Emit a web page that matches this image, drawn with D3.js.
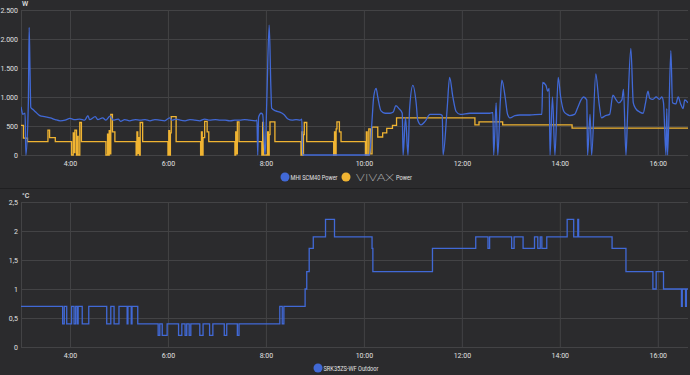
<!DOCTYPE html>
<html>
<head>
<meta charset="utf-8">
<script src="https://cdn.jsdelivr.net/npm/d3@7"></script>
<style>
  html, body { margin: 0; padding: 0; background: #2b2b2d; }
  svg { display: block; font-family: Roboto, "Noto Sans", sans-serif; }
</style>
</head>
<body>
<script>
// power chart data (W), time as H:MM
var mhiPower = [
  ["3:00",830],["3:01",760],["3:02",700],["3:05",720],["3:06",0],["3:09",900],["3:10",2200],["3:11",1500],
  ["3:12",820],["3:15",780],["3:18",740],["3:23",680],["3:29",660],["3:36",640],["3:42",610],["3:48",590],
  ["3:54",600],["4:00",630],["4:06",610],["4:12",620],["4:18",600],["4:22",680],["4:24",610],["4:31",660],
  ["4:34",610],["4:40",640],["4:44",600],["4:49",670],["4:53",600],["4:59",620],["5:02",580],["5:07",610],
  ["5:13",590],["5:20",610],["5:26",600],["5:32",610],["5:38",590],["5:44",610],["5:50",600],["5:56",590],
  ["6:02",640],["6:05",600],["6:10",620],["6:15",600],["6:21",590],["6:27",610],["6:33",600],["6:39",590],
  ["6:45",620],["6:51",600],["6:58",610],["7:04",600],["7:10",600],["7:16",590],["7:22",600],["7:28",600],
  ["7:34",610],["7:40",600],["7:47",590],["7:49",600],["7:50",0],["7:51",650],["7:54",720],["7:56",700],
  ["7:59",0],["8:01",900],["8:04",2240],["8:06",1200],["8:07",810],["8:12",760],["8:17",740],["8:22",700],
  ["8:27",620],["8:32",600],["8:37",610],["8:42",600],["8:44",620],["8:45",0],["10:07",0],["10:10",600],
  ["10:12",1000],["10:15",1150],["10:17",1000],["10:21",760],["10:26",720],["10:32",720],["10:36",740],
  ["10:39",850],["10:43",800],["10:47",720],["10:48",0],["10:51",650],["10:54",0],["10:56",800],["11:00",1200],
  ["11:04",900],["11:06",600],["11:10",520],["11:15",580],["11:21",700],["11:27",700],["11:33",700],
  ["11:36",680],["11:37",0],["11:42",800],["11:45",1340],["11:49",1000],["11:53",750],["11:58",700],
  ["12:10",720],["12:22",720],["12:34",720],["12:38",730],["12:39",0],["12:42",900],["12:44",0],["12:47",900],
  ["12:49",1290],["12:53",1000],["12:56",700],["12:59",640],["13:05",680],["13:11",690],["13:23",690],
  ["13:36",700],["13:38",700],["13:39",1250],["13:43",1200],["13:45",1100],["13:47",1150],["13:48",0],
  ["13:51",1000],["13:54",0],["13:58",1340],["14:01",1000],["14:05",750],["14:09",700],["14:12",680],
  ["14:18",700],["14:22",820],["14:26",950],["14:29",1000],["14:33",950],["14:34",0],["14:37",700],
  ["14:39",0],["14:44",1400],["14:48",900],["14:51",640],["14:56",680],["15:01",700],["15:05",1030],
  ["15:09",950],["15:12",900],["15:16",950],["15:18",1130],["15:21",0],["15:23",700],["15:27",1840],
  ["15:30",900],["15:33",800],["15:38",740],["15:42",720],["15:45",900],["15:48",1100],["15:50",980],
  ["15:54",960],["15:58",1000],["16:02",960],["16:05",1000],["16:07",900],["16:10",0],["16:11",800],
  ["16:12",0],["16:16",1800],["16:18",900],["16:22",880],["16:25",1000],["16:28",880],["16:31",800],
  ["16:33",950],["16:37",900]
];

var vivaxPower = [
  ["3:00",510],["3:03",290],["3:08",230],["3:33",430],["3:35",300],["3:42",230],
  ["4:02",0],["4:04",380],["4:05",40],["4:06",430],["4:08",0],["4:09",320],["4:10",0],["4:12",560],["4:14",230],
  ["4:44",0],["4:46",360],["4:47",0],["4:48",420],["4:49",20],["4:50",700],["4:52",400],["4:55",230],
  ["5:21",0],["5:22",400],["5:23",30],["5:24",300],["5:25",0],["5:26",560],["5:29",230],
  ["6:00",0],["6:01",420],["6:02",0],["6:03",380],["6:04",660],["6:10",230],
  ["6:40",0],["6:41",400],["6:42",0],["6:43",300],["6:45",580],["6:48",400],["6:50",230],
  ["7:22",0],["7:23",400],["7:24",20],["7:25",570],["7:27",230],
  ["7:55",0],["7:56",560],["7:57",0],["8:02",400],["8:03",0],["8:04",350],["8:05",570],["8:11",230],
  ["8:43",0],["8:44",400],["8:45",0],["8:46",350],["8:47",560],["8:50",230],
  ["9:23",0],["9:24",400],["9:25",0],["9:26",450],["9:27",570],["9:30",400],["9:32",230],
  ["10:02",0],["10:03",400],["10:04",0],["10:06",450],["10:08",20],["10:10",480],["10:17",310],["10:23",380],
  ["10:28",460],["10:35",510],["10:40",640],["12:16",520],["12:21",570],["12:50",520],["14:15",465],["16:37",465]
];

// outdoor temperature (°C)
var outdoorTemp = [
  ["3:00",0.7],["3:51",0.4],["3:53",0.7],["3:56",0.4],["4:02",0.7],["4:05",0.4],["4:07",0.7],["4:09",0.4],
  ["4:10",0.7],["4:15",0.4],["4:23",0.7],["4:45",0.4],["4:50",0.7],["4:54",0.4],["5:00",0.7],["5:10",0.4],
  ["5:11",0.7],["5:15",0.4],["5:16",0.7],["5:23",0.4],["5:48",0.2],["5:50",0.4],["5:53",0.2],["5:59",0.4],
  ["6:13",0.2],["6:17",0.4],["6:21",0.2],["6:23",0.4],["6:26",0.2],["6:28",0.4],["6:39",0.2],["6:43",0.4],
  ["6:51",0.2],["6:55",0.4],["7:09",0.2],["7:12",0.4],["7:25",0.2],["7:27",0.4],["8:17",0.7],["8:20",0.4],
  ["8:22",0.7],["8:48",1.0],["8:50",1.3],["8:53",1.7],["8:58",1.9],["9:13",2.2],["9:24",1.9],["10:10",1.7],
  ["10:11",1.3],["11:24",1.7],["12:17",1.9],["12:32",1.7],["12:34",1.9],["13:01",1.7],["13:04",1.9],
  ["13:15",1.7],["13:29",1.9],["13:33",1.7],["13:36",1.9],["13:38",1.7],["13:44",1.9],["14:09",2.2],
  ["14:17",1.9],["14:22",2.2],["14:23",1.9],["15:04",1.7],["15:21",1.3],["15:54",1.0],["15:58",1.3],
  ["16:07",1.0],["16:29",0.7],["16:30",1.0],["16:34",0.7],["16:35",1.0],["16:37",1.0]
];

var timeTicks = ["4:00","6:00","8:00","10:00","12:00","14:00","16:00"];
var powerTicks = [0, 500, 1000, 1500, 2000, 2500];
var tempTicks = [0, 0.5, 1, 1.5, 2, 2.5];

var W = 690, H = 375;
var parse = d3.timeParse("%H:%M");
var fmt = d3.timeFormat("%-H:%M");
var blue = "#4169d6", yellow = "#f0b432", grid = "#434345", txt = "#e1e1e1";

var svg = d3.select("body").append("svg").attr("width", W).attr("height", H);
svg.append("rect").attr("width", W).attr("height", H).attr("fill", "#2b2b2d");
// card separator
svg.append("line").attr("x1", 0).attr("x2", W).attr("y1", 188.5).attr("y2", 188.5)
  .attr("stroke", "#1f1f21").attr("stroke-width", 1);

var x = d3.scaleTime().domain([parse("3:00"), parse("16:37")]).range([21, 688]);

function drawPanel(top, bottom, yDomain, ticks, tickFmt, unit, id) {
  var y = d3.scaleLinear().domain(yDomain).range([bottom, top]);
  var g = svg.append("g");

  // horizontal grid + labels
  g.append("g").attr("transform", "translate(21,0)")
    .call(d3.axisLeft(y).tickValues(ticks).tickSize(-(688 - 21)).tickPadding(3).tickFormat(tickFmt))
    .call(function(a) {
      a.select(".domain").remove();
      a.selectAll(".tick line").attr("stroke", grid).attr("stroke-width", 1);
      a.selectAll(".tick text").attr("fill", txt).attr("font-size", 7).attr("font-family", "Roboto, sans-serif");
    });

  // vertical grid + time labels
  g.append("g").attr("transform", "translate(0," + bottom + ")")
    .call(d3.axisBottom(x).tickValues(timeTicks.map(parse)).tickSize(-(bottom - top)).tickPadding(6).tickFormat(fmt))
    .call(function(a) {
      a.select(".domain").remove();
      a.selectAll(".tick line").attr("stroke", grid).attr("stroke-width", 1);
      a.selectAll(".tick text").attr("fill", txt).attr("font-size", 7).attr("font-family", "Roboto, sans-serif");
    });

  // left border
  g.append("line").attr("x1", 21.5).attr("x2", 21.5).attr("y1", top).attr("y2", bottom)
    .attr("stroke", grid);

  g.append("text").attr("x", 22).attr("y", top - 4).attr("fill", txt)
    .attr("font-size", 7).attr("font-weight", 500).text(unit);

  svg.append("clipPath").attr("id", id).append("rect")
    .attr("x", 21).attr("y", top - 3).attr("width", 688 - 21).attr("height", bottom - top + 6);
  return y;
}

// top panel: power (german thousands separator)
var yP = drawPanel(10, 155, [0, 2500], powerTicks,
  function(d) { return d3.format(",.0f")(d).replace(",", "."); }, "W", "clipP");

var lineP = d3.line().x(function(d) { return x(parse(d[0])); }).y(function(d) { return yP(d[1]); });

svg.append("path").datum(vivaxPower)
  .attr("clip-path", "url(#clipP)")
  .attr("fill", "none").attr("stroke", yellow).attr("stroke-width", 1.3)
  .attr("d", lineP.curve(d3.curveStepAfter));

svg.append("path").datum(mhiPower)
  .attr("clip-path", "url(#clipP)")
  .attr("fill", "none").attr("stroke", blue).attr("stroke-width", 1.3)
  .attr("d", lineP.curve(d3.curveMonotoneX));

// bottom panel: temperature
var yT = drawPanel(202, 347, [0, 2.5], tempTicks, function(d) { return String(d).replace(".", ","); }, "°C", "clipT");

var lineT = d3.line().curve(d3.curveStepAfter)
  .x(function(d) { return x(parse(d[0])); }).y(function(d) { return yT(d[1]); });

svg.append("path").datum(outdoorTemp)
  .attr("clip-path", "url(#clipT)")
  .attr("fill", "none").attr("stroke", blue).attr("stroke-width", 1.3)
  .attr("d", lineT);

// legends
function legendItem(cx, cy, color) {
  svg.append("circle").attr("cx", cx).attr("cy", cy).attr("r", 4.5).attr("fill", color);
}
function legendText(x0, y0, width, s) {
  svg.append("text").attr("x", x0).attr("y", y0).attr("fill", txt).attr("font-size", 6.5)
    .attr("textLength", width).attr("lengthAdjust", "spacingAndGlyphs").text(s);
}
legendItem(285, 177, blue);
legendText(290.5, 179.5, 47, "MHI SCM40 Power");
legendItem(346, 177, yellow);
svg.append("text").attr("x", 356).attr("y", 180.5).attr("fill", txt).attr("font-size", 9)
  .attr("font-weight", 100).attr("textLength", 38).attr("lengthAdjust", "spacingAndGlyphs")
  .text("VIVAX");
legendText(396, 179.5, 16, "Power");

legendItem(318, 368, blue);
legendText(323.5, 370.5, 55, "SRK35ZS-WF Outdoor");
</script>
</body>
</html>
